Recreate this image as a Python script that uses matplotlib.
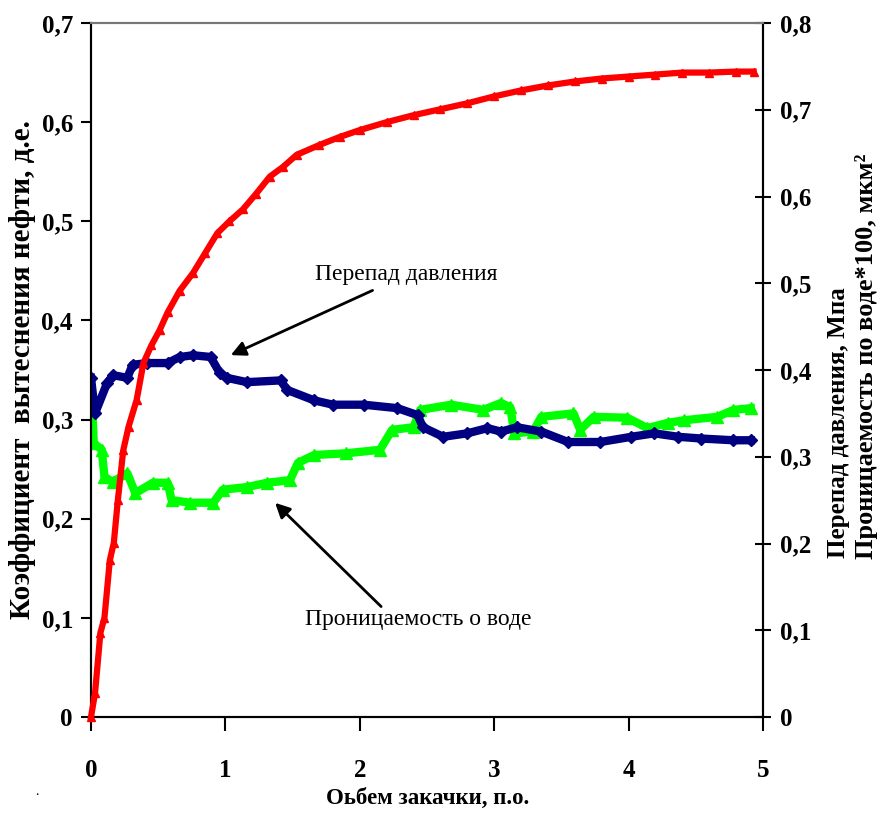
import matplotlib
matplotlib.use("Agg")
import matplotlib.pyplot as plt
from matplotlib.ticker import FixedLocator, FuncFormatter

plt.rcParams['font.family'] = ['Liberation Serif', 'DejaVu Serif']

# Oil displacement coefficient (left axis)
x_red = [0, 0.03, 0.07, 0.10, 0.14, 0.17, 0.20, 0.24, 0.28, 0.34, 0.39, 0.45, 0.51,
         0.57, 0.66, 0.76, 0.85, 0.94, 1.03, 1.13, 1.23, 1.33, 1.43, 1.53, 1.70,
         1.85, 2.00, 2.20, 2.40, 2.60, 2.80, 3.00, 3.20, 3.40, 3.60, 3.80, 4.00,
         4.20, 4.40, 4.60, 4.80, 4.93]
y_red = [0, 0.024, 0.085, 0.100, 0.158, 0.176, 0.219, 0.269, 0.293, 0.320, 0.357,
         0.375, 0.390, 0.408, 0.430, 0.448, 0.468, 0.488, 0.500, 0.512, 0.528,
         0.545, 0.555, 0.567, 0.577, 0.585, 0.592, 0.600, 0.607, 0.613, 0.619,
         0.626, 0.632, 0.637, 0.641, 0.644, 0.646, 0.648, 0.650, 0.650, 0.651,
         0.651]

# Pressure drop (right axis)
x_blue = [0.0, 0.03, 0.12, 0.165, 0.27, 0.31, 0.42, 0.57, 0.66, 0.76, 0.89, 0.96,
          1.01, 1.16, 1.41, 1.46, 1.66, 1.80, 2.03, 2.28, 2.43, 2.47, 2.62, 2.80,
          2.95, 3.05, 3.17, 3.35, 3.55, 3.79, 4.02, 4.19, 4.37, 4.54, 4.78, 4.91]
y_blue = [0.391, 0.350, 0.385, 0.394, 0.391, 0.406, 0.408, 0.408, 0.415, 0.417,
          0.415, 0.396, 0.391, 0.386, 0.388, 0.377, 0.365, 0.360, 0.360, 0.356,
          0.348, 0.334, 0.323, 0.327, 0.333, 0.329, 0.334, 0.329, 0.317, 0.317,
          0.323, 0.327, 0.323, 0.321, 0.319, 0.319]

# Water permeability *100 (right axis)
x_green = [0.01, 0.02, 0.08, 0.10, 0.16, 0.27, 0.33, 0.46, 0.57, 0.60, 0.74, 0.91,
           0.98, 1.16, 1.31, 1.48, 1.54, 1.66, 1.90, 2.15, 2.24, 2.40, 2.45, 2.68,
           2.92, 3.05, 3.12, 3.15, 3.29, 3.35, 3.59, 3.64, 3.74, 3.99, 4.14, 4.29,
           4.41, 4.66, 4.78, 4.91]
y_green = [0.357, 0.316, 0.308, 0.277, 0.271, 0.281, 0.258, 0.270, 0.270, 0.250,
           0.247, 0.247, 0.262, 0.265, 0.270, 0.273, 0.293, 0.302, 0.304, 0.308,
           0.331, 0.334, 0.354, 0.360, 0.354, 0.362, 0.357, 0.327, 0.329, 0.346,
           0.350, 0.331, 0.346, 0.345, 0.333, 0.339, 0.342, 0.346, 0.354, 0.356]

left_ticks = [0, 0.1, 0.2, 0.3, 0.4, 0.5, 0.6, 0.7]
right_ticks = [0, 0.1, 0.2, 0.3, 0.4, 0.5, 0.6, 0.7, 0.8]
x_ticks = [0, 1, 2, 3, 4, 5]

def comma(v, pos=None):
    s = ('%.1f' % v).rstrip('0').rstrip('.')
    return s.replace('.', ',')

fig = plt.figure(figsize=(8.81, 8.13), dpi=100)
ax = fig.add_axes([91/881, 1-717/813, (763-91)/881, (717-23)/813])
ax2 = ax.twinx()

ax2.plot(x_green, y_green, color='#00FF00', lw=6, marker='^', ms=8,
         markeredgecolor='#00FF00', zorder=2)
ax2.plot(x_blue, y_blue, color='#000080', lw=6, marker='D', ms=6,
         markeredgecolor='#000080', zorder=3)
ax.plot(x_red, y_red, color='#FF0000', lw=4.5, marker='^', ms=6,
        markeredgecolor='#FF0000', zorder=4, clip_on=False)

ax.set_zorder(ax2.get_zorder() + 1)
ax.patch.set_visible(False)

ax.set_xlim(0, 5)
ax.set_ylim(0, 0.7)
ax2.set_ylim(0, 0.8)

ax.xaxis.set_major_locator(FixedLocator(x_ticks))
ax.yaxis.set_major_locator(FixedLocator(left_ticks))
ax2.yaxis.set_major_locator(FixedLocator(right_ticks))
ax.yaxis.set_major_formatter(FuncFormatter(comma))
ax2.yaxis.set_major_formatter(FuncFormatter(comma))
ax.xaxis.set_major_formatter(FuncFormatter(lambda v, p: '%d' % v))
for lab in ax.get_xticklabels() + ax.get_yticklabels() + ax2.get_yticklabels():
    lab.set_fontsize(18)
    lab.set_fontweight('bold')

ax.tick_params(axis='y', direction='out', length=7, width=1.5, pad=6)
ax.tick_params(axis='x', direction='out', length=10, width=1.5, pad=20)
ax2.tick_params(axis='y', direction='inout', length=12, width=1.5, pad=6)

for a in (ax, ax2):
    for s in ('left', 'right', 'bottom'):
        a.spines[s].set_linewidth(1.5)
        a.spines[s].set_color('black')
    a.spines['top'].set_color('#777777')
    a.spines['top'].set_linewidth(1.5)

fig.text(428/881, 1-798/813, 'Оьбем закачки, п.о.', fontsize=16.5,
         fontweight='bold', ha='center', va='center')
ax.set_ylabel('Коэффициент  вытеснения нефти, д.е.', fontsize=21,
              fontweight='bold', labelpad=4)

fig.text(838/881, 1-423/813, 'Перепад давления, Мпа', rotation=90,
         fontsize=18, fontweight='bold', ha='center', va='center')
fig.text(866/881, 1-356/813, 'Проницаемость по воде*100, мкм²', rotation=90,
         fontsize=19, fontweight='bold', ha='center', va='center')

ax.annotate('Перепад давления', xy=(1.04, 0.365), xytext=(1.67, 0.446),
            fontsize=17, va='center', ha='left',
            arrowprops=dict(arrowstyle='-|>', lw=2, color='black',
                            mutation_scale=22, shrinkA=4, shrinkB=0))
ax.annotate('Проницаемость о воде', xy=(1.37, 0.216), xytext=(1.59, 0.098),
            fontsize=17, va='center', ha='left',
            arrowprops=dict(arrowstyle='-|>', lw=2, color='black',
                            mutation_scale=22, shrinkA=0, shrinkB=0,
                            relpos=(0.35, 1.0)))

fig.text(35/881, 1-795/813, '.', fontsize=10)

fig.savefig('out.png', dpi=100)
